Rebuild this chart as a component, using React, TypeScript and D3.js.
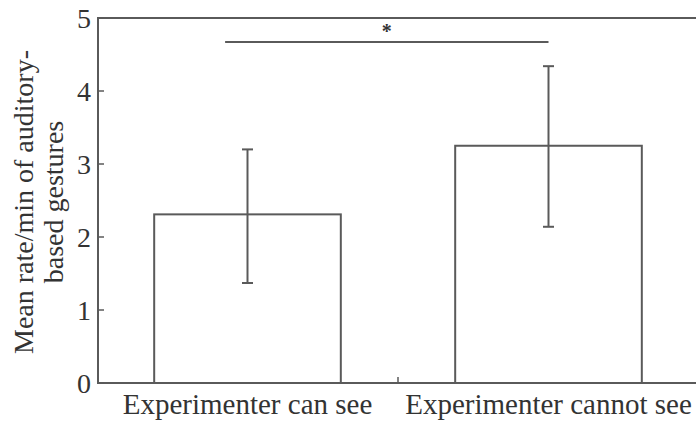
import React from "react";
import * as d3 from "d3";

const conditions = ["Experimenter can see", "Experimenter cannot see"];
const means = [2.31, 3.25];
const errLow = [1.37, 2.14];
const errHigh = [3.2, 4.34];
const yTicks = [0, 1, 2, 3, 4, 5];
const sigLevel = 4.67;
const sigLabel = "*";
const yLabelLines = ["Mean rate/min of auditory-", "based gestures"];

const W = 696;
const H = 424;
const font = "'Liberation Serif', 'Times New Roman', serif";
const ink = "#5a5a5a";
const textColor = "#333";

const App = () => {
  const x = d3.scaleBand<string>().domain(conditions).range([97, 699]).paddingInner(0.38).paddingOuter(0.19);
  const y = d3.scaleLinear().domain([0, 5]).range([383, 18]);
  const bw = x.bandwidth();
  const cx = (c: string) => (x(c) ?? 0) + bw / 2;

  const sigX1 = (x(conditions[0]) ?? 0) + bw * 0.38;
  const sigX2 = cx(conditions[1]);
  const boundary = (x(conditions[1]) ?? 0) - (x.step() - bw) / 2;

  return (
    <svg width={W} height={H} style={{ position: "absolute", left: 0, top: 0, background: "#fff" }} fontFamily={font}>
      {/* frame: left axis, top line, bottom axis */}
      <line x1={98} x2={98} y1={y(5)} y2={y(0)} stroke={ink} strokeWidth={2} />
      <line x1={97} x2={W} y1={y(5)} y2={y(5)} stroke={ink} strokeWidth={2} />
      <line x1={97} x2={W} y1={y(0)} y2={y(0)} stroke={ink} strokeWidth={2} />
      <line x1={boundary} x2={boundary} y1={y(0)} y2={y(0) - 6} stroke={ink} strokeWidth={1.5} />

      {yTicks.map((t) => (
        <g key={t}>
          <line x1={98} x2={104} y1={y(t)} y2={y(t)} stroke={ink} strokeWidth={1.5} />
          <text x={91} y={y(t)} textAnchor="end" dominantBaseline="central" fontSize={28} fill={textColor}>
            {t}
          </text>
        </g>
      ))}

      <g transform="translate(33,202) rotate(-90)">
        {yLabelLines.map((l, i) => (
          <text key={l} x={0} y={i * 30} textAnchor="middle" fontSize={28} fill={textColor}>
            {l}
          </text>
        ))}
      </g>

      {conditions.map((c, i) => (
        <g key={c}>
          <rect x={x(c)} y={y(means[i])} width={bw} height={y(0) - y(means[i])} fill="#fff" stroke={ink} strokeWidth={2} />
          <line x1={cx(c)} x2={cx(c)} y1={y(errHigh[i])} y2={y(errLow[i])} stroke={ink} strokeWidth={2} />
          <line x1={cx(c) - 5.5} x2={cx(c) + 5.5} y1={y(errHigh[i])} y2={y(errHigh[i])} stroke={ink} strokeWidth={2} />
          <line x1={cx(c) - 5.5} x2={cx(c) + 5.5} y1={y(errLow[i])} y2={y(errLow[i])} stroke={ink} strokeWidth={2} />
          <text x={cx(c)} y={414} textAnchor="middle" fontSize={29} fill={textColor}>
            {c}
          </text>
        </g>
      ))}

      <line x1={sigX1} x2={sigX2} y1={y(sigLevel)} y2={y(sigLevel)} stroke={ink} strokeWidth={2} />
      <text x={(sigX1 + sigX2) / 2} y={y(sigLevel) - 4} textAnchor="middle" fontSize={20} fontWeight="bold" fill={textColor}>
        {sigLabel}
      </text>
    </svg>
  );
};

export default App;
